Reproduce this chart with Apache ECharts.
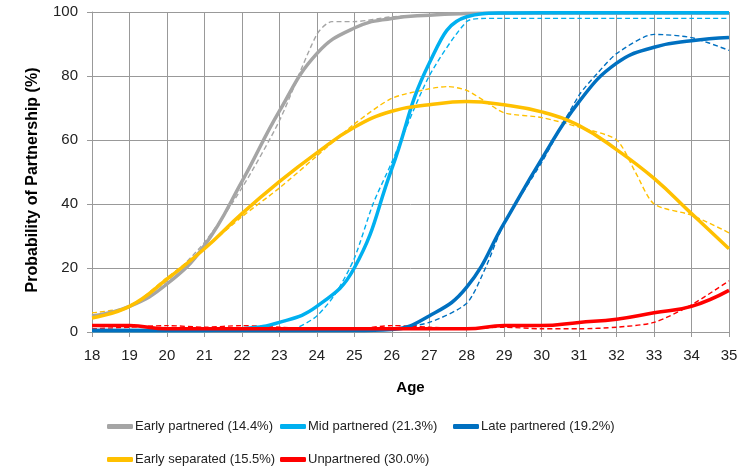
<!DOCTYPE html>
<html><head><meta charset="utf-8">
<script src="https://cdn.jsdelivr.net/npm/echarts@6/dist/echarts.min.js"></script>
<style>html,body{margin:0;padding:0;background:#fff}#c{width:753px;height:469px}</style>
</head><body><div id="c"></div>
<script>
const ages = [18,19,20,21,22,23,24,25,26,27,28,29,30,31,32,33,34,35];
const seriesNames = ['Early partnered (14.4%)','Mid partnered (21.3%)','Late partnered (19.2%)','Early separated (15.5%)','Unpartnered (30.0%)'];
const colors = ['#a5a5a5','#00b0f0','#0070c0','#ffc000','#ff0000'];

// smoothed (solid) curves
const earlySolidAges = [18,19,20,21,22,23,24,25,26,27,28,29,30,31,32,33,34,35];
const earlySolid =     [5,8,15,27,47,69,87,95,98,99,99.5,99.7,99.7,99.7,99.7,99.7,99.7,99.7];
const midSolidAges = [18,19,20,21,22,23,24,25,26,27,28,29,30,31,32,33,34,35];
const midSolid =     [0.5,0.5,0.5,0.5,1,3,8,20,51,84,98.5,99.7,99.8,99.8,99.8,99.8,99.8,99.8];
const lateSolidAges = [18,19,20,21,22,23,24,25,26,27,28,29,30,31,32,33,34,35];
const lateSolid =     [0.5,0.5,0.5,0.5,0.5,0.5,0.5,0.5,0.8,5,14,34,54,72,84,89,91,92];
const sepSolidAges = [18,19,20,21,22,23,24,25,26,27,28,29,30,31,32,33,34,35];
const sepSolid =     [4.4,8,16.5,26,37,47,56,64,69,71,72,71,68.8,64.5,57,48,37,26];
const unpSolidAges = [18,19,20,21,22,23,24,25,26,27,28,29,30,31,32,33,34,35];
const unpSolid =     [2,2,1,1,1,1,1,1,1,1,1,2,2,3,4,6,8,13];

// observed (dashed) curves
const earlyDashAges = [18,19,20,21,22,23,24,24.4,25,26,27,28,29,30,31,32,33,34,35];
const earlyDash =     [5,8,16,28,45,66,93,97,97,98.5,99,99.5,99.5,99.5,99.5,99.5,99.5,99.5,99.5];
const midDashAges = [18,19,20,21,22,23,23.5,24,24.5,25,25.5,26,27,28,28.5,29,30,31,32,33,34,35];
const midDash =     [0.5,0.5,0.5,0.5,0.5,0.5,1.5,5,12,23,40,53,80,97,98,98,98,98,98,98,98,98];
const lateDashAges = [18,19,20,21,22,23,24,25,26,27,28,28.5,29,30,31,31.5,32,33,34,35];
const lateDash =     [0.5,0.5,0.5,0.5,0.5,0.5,0.5,0.5,1,3,9,20,34,53,74,81,87,93,92,88];
const sepDashAges = [18,19,20,21,22,23,24,25,26,27,27.5,28,28.5,29,30,31,32,32.5,33,34,35];
const sepDash =     [6,8,17,26,36,45,55,65,73,76,76.7,75.5,72,68.5,67,64,60,50,40,36.5,31];
const unpDashAges = [18,19,20,21,22,23,24,25,26,27,28,29,30,31,32,33,34,35];
const unpDash =     [1,1.5,2,1.5,2,1.5,1,1,2,1.5,1,1.5,1,1,1.5,3,8.5,16];

const yTicks = [0,20,40,60,80,100];

function pairs(xs, ys){ return xs.map((x,i)=>[x, ys[i]]); }

const solid = [
  [earlySolidAges, earlySolid],[midSolidAges, midSolid],[lateSolidAges, lateSolid],
  [sepSolidAges, sepSolid],[unpSolidAges, unpSolid]
];
const dashed = [
  [earlyDashAges, earlyDash],[midDashAges, midDash],[lateDashAges, lateDash],
  [sepDashAges, sepDash],[unpDashAges, unpDash]
];

const series = [];
dashed.forEach((d,i)=>{
  series.push({name: seriesNames[i]+' obs', type:'line', data: pairs(d[0], d[1]), smooth:0.25,
    showSymbol:false, silent:true, lineStyle:{color:colors[i], width:1.4, type:[5,3]}, z:2});
});
solid.forEach((d,i)=>{
  series.push({name: seriesNames[i], type:'line', data: pairs(d[0], d[1]), smooth:0.45,
    showSymbol:false, itemStyle:{color:colors[i]}, lineStyle:{color:colors[i], width:3.5}, z:3 + (i===4?1:0)});
});

const FONT = 'Liberation Sans, Arial, sans-serif';
const legendPos = [[107,420],[280,420],[453,420],[107,453],[280,453]];
const legends = seriesNames.map((n,i)=>({
  data:[n], left: legendPos[i][0], top: legendPos[i][1], icon:'roundRect', itemWidth:26, itemHeight:5, itemGap:2, padding:0,
  textStyle:{fontFamily:FONT, fontSize:13, color:'#222', padding:[0,0,0,-3]}
}));

const chart = echarts.init(document.getElementById('c'), null, {renderer:'canvas'});
chart.setOption({
  animation:false,
  grid:{left:92, right:24, top:12, bottom:137},
  legend: legends,
  graphic:[{type:'text', x:33, y:180, rotation:Math.PI/2,
    style:{text:'Probability of Partnership (%)', font:'bold 16px '+FONT, fill:'#000', textAlign:'center', textVerticalAlign:'middle'}}],
  xAxis:{type:'value', min:18, max:35, interval:1, name:'Age', nameLocation:'middle', nameGap:48,
    nameTextStyle:{fontFamily:FONT, fontSize:15, fontWeight:'bold', color:'#000'},
    axisLine:{lineStyle:{color:'#999', width:1}}, axisTick:{show:true, length:5, lineStyle:{color:'#999'}},
    axisLabel:{fontFamily:FONT, fontSize:15, color:'#222', margin:16},
    splitLine:{show:true, lineStyle:{color:'#999', width:1}}},
  yAxis:{type:'value', min:yTicks[0], max:yTicks[yTicks.length-1], interval:20,
    axisLine:{show:true, lineStyle:{color:'#999', width:1}}, axisTick:{show:true, length:5, lineStyle:{color:'#999'}},
    axisLabel:{fontFamily:FONT, fontSize:15, color:'#222', margin:14},
    splitLine:{show:true, lineStyle:{color:'#999', width:1}}},
  series: series
});
</script></body></html>
